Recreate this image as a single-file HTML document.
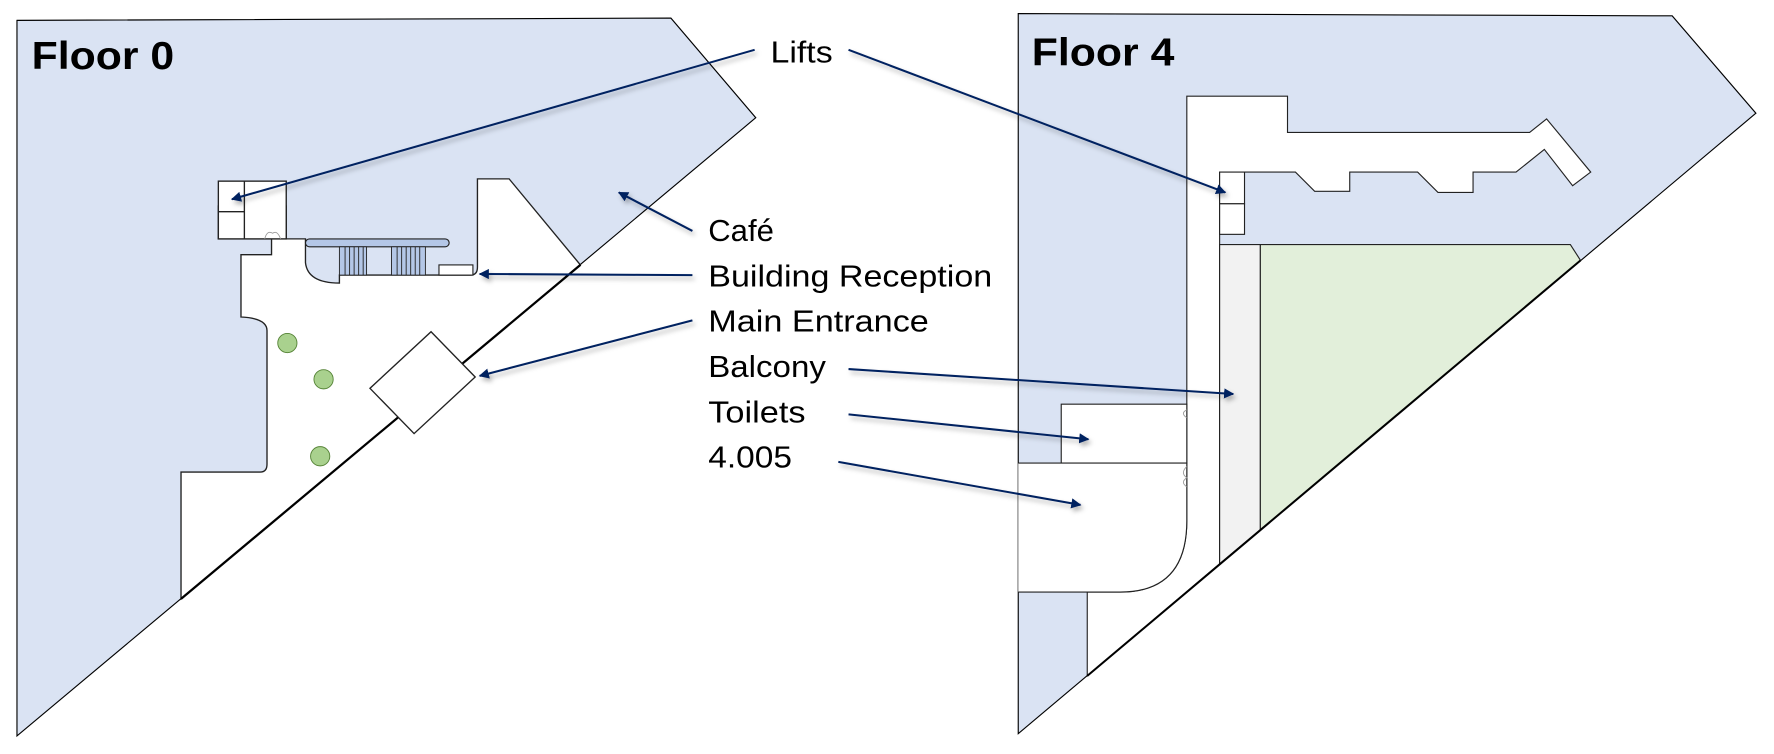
<!DOCTYPE html>
<html><head><meta charset="utf-8"><style>
html,body{margin:0;padding:0;background:#fff;}
svg{display:block;}
text{font-family:"Liberation Sans",sans-serif;fill:#000;}
</style></head><body>
<svg width="1774" height="754" viewBox="0 0 1568 666" preserveAspectRatio="none" xmlns="http://www.w3.org/2000/svg">
<defs>
<marker id="ah" viewBox="0 0 10 10" refX="9" refY="5" markerWidth="5" markerHeight="5" orient="auto-start-reverse"><path d="M0,0 L10,5 L0,10 z" fill="#002060"/></marker>
<filter id="sh" x="-10%" y="-10%" width="120%" height="140%"><feDropShadow dx="2" dy="3" stdDeviation="2" flood-color="#000" flood-opacity="0.3"/></filter>
</defs>

<g>
<polygon points="15,18 593,16 668,104 15,650" fill="#dae3f3" stroke="#000" stroke-width="1"/>
<path d="M213,225 L240,225 L240,211 L270,211 L270,232 Q272,250 300,250 L300,243 L416,243 Q422,243 422,236 L422,158 L450,158 L513,234 L160,529 L160,417 L230,417 Q236,417 236,410 L236,292 Q236,281 213,280 Z" fill="#fff" stroke="#222" stroke-width="1.2"/>
<line x1="160" y1="529" x2="513" y2="234" stroke="#000" stroke-width="2"/>
<g>
<rect x="193" y="182" width="60" height="29" fill="#fff" stroke="#222" stroke-width="1.2"/>
<rect x="193" y="160" width="60" height="51" fill="#fff" stroke="#222" stroke-width="1.2"/>
<line x1="216" y1="160" x2="216" y2="211" stroke="#222" stroke-width="1.2"/>
<line x1="193" y1="187" x2="216" y2="187" stroke="#222" stroke-width="1.2"/>
<path d="M234,211 Q236,203 241,206 Q245,203 248,211" fill="none" stroke="#999" stroke-width="0.8"/>
</g>
<rect x="270" y="211" width="127" height="7" rx="3.5" fill="#b4c7e7" stroke="#222" stroke-width="1"/>
<g fill="#b4c7e7" stroke="#222" stroke-width="0.8">
<rect x="300" y="218" width="24" height="25"/>
<line x1="305" y1="218" x2="305" y2="243"/><line x1="309" y1="218" x2="309" y2="243"/><line x1="313" y1="218" x2="313" y2="243"/><line x1="317" y1="218" x2="317" y2="243"/><line x1="321" y1="218" x2="321" y2="243"/>
<rect x="346" y="218" width="30" height="25"/>
<line x1="351" y1="218" x2="351" y2="243"/><line x1="355" y1="218" x2="355" y2="243"/><line x1="359" y1="218" x2="359" y2="243"/><line x1="363" y1="218" x2="363" y2="243"/><line x1="367" y1="218" x2="367" y2="243"/><line x1="371" y1="218" x2="371" y2="243"/>
</g>
<rect x="388" y="234" width="30" height="9" fill="#fff" stroke="#222" stroke-width="1"/>
<polygon points="381,293 420,333 366,383 327,343" fill="#fff" stroke="#222" stroke-width="1.2"/>
<circle cx="254" cy="303" r="8.5" fill="#a9d18e" stroke="#548235" stroke-width="0.8"/>
<circle cx="286" cy="335" r="8.5" fill="#a9d18e" stroke="#548235" stroke-width="0.8"/>
<circle cx="283" cy="403" r="8.5" fill="#a9d18e" stroke="#548235" stroke-width="0.8"/>
<text x="28" y="61" font-size="34" font-weight="bold" textLength="126" lengthAdjust="spacingAndGlyphs">Floor 0</text>
</g>

<g>
<polygon points="900,12 1478,14 1552,100 900,648" fill="#dae3f3" stroke="#000" stroke-width="1"/>
<path d="M1049,85 L1138,85 L1138,117 L1352,117 L1367,105 L1406,152 L1390,164 L1365,132 L1340,152 L1302,152 L1302,170 L1271,170 L1253,152 L1193,152 L1193,169 L1162,169 L1145,152 L1078,152 L1078,498 L961,597 L961,523 L990,523 Q1049,523 1049,460 Z" fill="#fff" stroke="#222" stroke-width="1"/>
<g fill="#fff" stroke="#222" stroke-width="1">
<rect x="1078" y="152" width="22" height="28"/>
<rect x="1078" y="180" width="22" height="27"/>
</g>
<polygon points="1078,216 1114,216 1114,468 1078,498" fill="#f2f2f2" stroke="#222" stroke-width="1"/>
<polygon points="1114,216 1388,216 1397,230 1114,468" fill="#e2efda" stroke="#222" stroke-width="1"/>
<rect x="938" y="357" width="111" height="52" fill="#fff" stroke="#222" stroke-width="1"/>
<path d="M900,409 L1049,409 L1049,460 Q1049,523 990,523 L900,523" fill="#fff" stroke="#222" stroke-width="1"/>
<line x1="961" y1="597" x2="1397" y2="230" stroke="#000" stroke-width="1.8"/>
<path d="M1049,362 Q1043,365 1049,369" fill="none" stroke="#999" stroke-width="0.8"/>
<path d="M1049,412 Q1043,418 1049,422 Q1043,426 1049,430" fill="none" stroke="#999" stroke-width="0.8"/>
<text x="912" y="58" font-size="34" font-weight="bold" textLength="126" lengthAdjust="spacingAndGlyphs">Floor 4</text>
</g>

<g stroke="#002060" stroke-width="1.8" fill="none" marker-end="url(#ah)" filter="url(#sh)">
<line x1="667" y1="44" x2="205" y2="176"/>
<line x1="750" y1="44" x2="1083" y2="170"/>
<line x1="612" y1="204" x2="547" y2="170"/>
<line x1="612" y1="243" x2="424" y2="242"/>
<line x1="612" y1="283" x2="424" y2="332"/>
<line x1="750" y1="326" x2="1090" y2="348"/>
<line x1="750" y1="366" x2="962" y2="388"/>
<line x1="741" y1="408" x2="955" y2="446"/>
</g>

<g font-size="27">
<text x="681" y="55" textLength="55" lengthAdjust="spacingAndGlyphs">Lifts</text>
<text x="626" y="213" textLength="58" lengthAdjust="spacingAndGlyphs">Café</text>
<text x="626" y="253" textLength="251" lengthAdjust="spacingAndGlyphs">Building Reception</text>
<text x="626" y="293" textLength="195" lengthAdjust="spacingAndGlyphs">Main Entrance</text>
<text x="626" y="333" textLength="104" lengthAdjust="spacingAndGlyphs">Balcony</text>
<text x="626" y="373" textLength="86" lengthAdjust="spacingAndGlyphs">Toilets</text>
<text x="626" y="413" textLength="74" lengthAdjust="spacingAndGlyphs">4.005</text>
</g>
</svg>
</body></html>
